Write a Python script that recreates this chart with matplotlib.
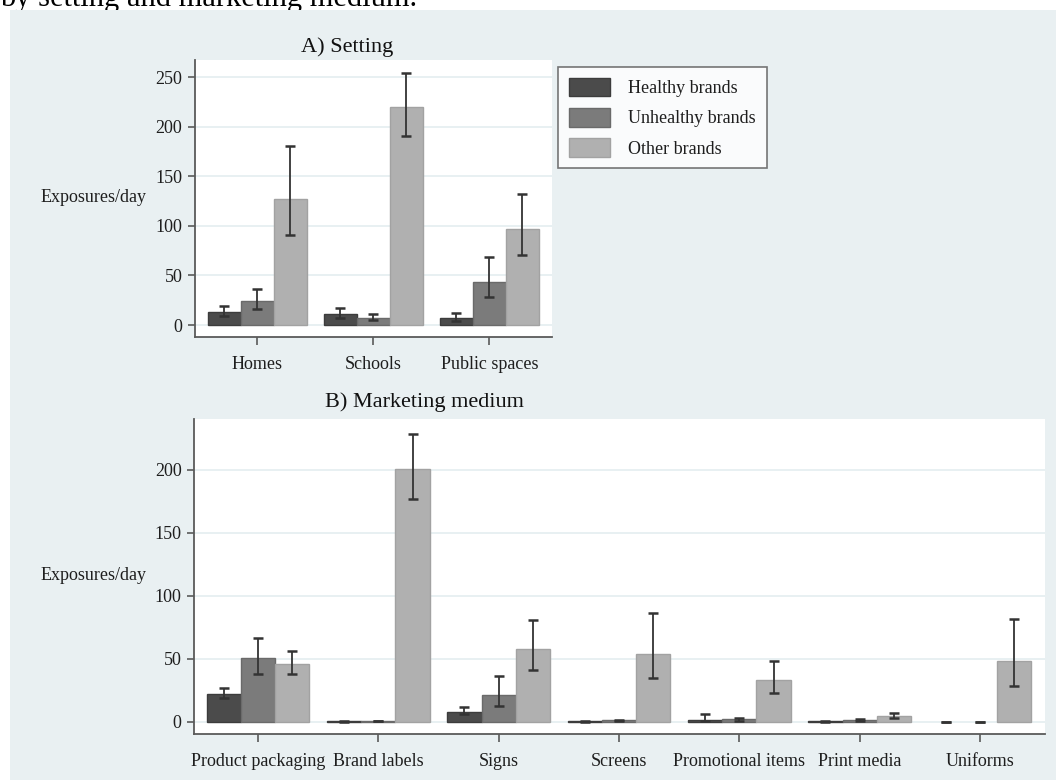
import numpy as np
import matplotlib
matplotlib.use("Agg")
import matplotlib.pyplot as plt
from matplotlib.patches import Rectangle, Patch

plt.rcParams['font.family'] = ['Liberation Serif', 'DejaVu Serif']

# ---- data: exposures per day (mean with 95% CI) ----
series_names = ["Healthy brands", "Unhealthy brands", "Other brands"]

settings = ["Homes", "Schools", "Public spaces"]
setting_healthy = [13.5, 10.8, 6.7]
setting_healthy_lo = [9.4, 7.4, 4.0]
setting_healthy_hi = [19.5, 17.5, 12.1]
setting_unhealthy = [24.5, 6.7, 43.7]
setting_unhealthy_lo = [16.1, 4.7, 28.3]
setting_unhealthy_hi = [36.3, 11.4, 69.0]
setting_other = [127.1, 220.0, 96.5]
setting_other_lo = [90.5, 190.4, 71.0]
setting_other_hi = [180.3, 254.0, 131.9]

media = ["Product packaging", "Brand labels", "Signs", "Screens",
         "Promotional items", "Print media", "Uniforms"]
media_healthy = [22.0, 0.3, 7.7, 0.3, 1.0, 0.3, 0.0]
media_healthy_lo = [18.8, 0.1, 6.1, 0.1, 0.2, 0.1, 0.0]
media_healthy_hi = [26.7, 0.5, 11.7, 0.5, 6.3, 0.5, 0.0]
media_unhealthy = [50.5, 0.4, 21.3, 1.0, 1.9, 1.0, 0.0]
media_unhealthy_lo = [38.1, 0.2, 12.8, 0.5, 0.8, 0.3, 0.0]
media_unhealthy_hi = [66.7, 0.7, 36.5, 1.6, 3.2, 2.4, 0.0]
media_other = [46.0, 200.5, 57.7, 54.0, 32.8, 4.2, 47.9]
media_other_lo = [38.1, 176.7, 41.3, 34.4, 22.8, 2.9, 28.6]
media_other_hi = [55.8, 228.3, 81.0, 86.3, 48.1, 6.9, 81.7]

top_yticks = [0, 50, 100, 150, 200, 250]
bottom_yticks = [0, 50, 100, 150, 200]

# ---- styling ----
W, H = 1056, 780
bg = "#e9f0f2"
grid_c = "#e6eff1"
spine_c = "#5a5a5a"
face = ["#4b4b4b", "#7b7b7b", "#b0b0b0"]
edge = ["#3c3c3c", "#6a6a6a", "#a2a2a2"]
err_c = "#333333"
text_c = "#1e1e1e"
fs = 13
bar_w = 0.285

fig = plt.figure(figsize=(W / 100, H / 100), dpi=100)
fig.patch.set_facecolor("white")

# caption line above the panel
fig.text(0 / W, 1 - 6 / H, "by setting and marketing medium.", fontsize=22,
         color="black", ha="left", va="baseline", zorder=-3)
fig.patches.append(Rectangle((10 / W, 0), 1 - 10 / W, 1 - 10 / H,
                             transform=fig.transFigure, facecolor=bg,
                             edgecolor="none", zorder=-2))


def px_axes(left, top, right, bottom):
    return fig.add_axes([left / W, 1 - bottom / H, (right - left) / W,
                         (bottom - top) / H])


def draw_panel(ax, cats, vals, los, his, ylim, yticks, xlim):
    x = np.arange(len(cats))
    for i in range(3):
        v = np.array(vals[i], dtype=float)
        lo = np.array(los[i], dtype=float)
        hi = np.array(his[i], dtype=float)
        xs = x + (i - 1) * bar_w
        lws = [0.0 if val == 0 else 1.0 for val in v]
        ax.bar(xs, v, width=bar_w, color=face[i], edgecolor=edge[i],
               linewidth=lws, zorder=2)
        ax.errorbar(xs, v, yerr=[v - lo, hi - v], fmt="none", ecolor=err_c,
                    elinewidth=1.3, capsize=3.8, capthick=1.8, zorder=3)
    ax.set_xlim(*xlim)
    ax.set_ylim(*ylim)
    ax.set_xticks(x)
    ax.set_xticklabels(cats, fontsize=fs, color=text_c)
    ax.set_yticks(yticks)
    ax.set_yticklabels([str(t) for t in yticks], fontsize=fs, color=text_c)
    ax.set_facecolor("white")
    for s in ("top", "right"):
        ax.spines[s].set_visible(False)
    for s in ("left", "bottom"):
        ax.spines[s].set_color(spine_c)
        ax.spines[s].set_linewidth(1.3)
    ax.tick_params(axis="both", direction="out", color=spine_c, width=1.2,
                   length=5, pad=4)
    ax.tick_params(axis="x", length=6, pad=8)
    ax.yaxis.grid(True, color=grid_c, linewidth=1.3, zorder=0)
    ax.set_axisbelow(True)


ax1 = px_axes(195, 60, 552, 337)
draw_panel(ax1, settings,
           [setting_healthy, setting_unhealthy, setting_other],
           [setting_healthy_lo, setting_unhealthy_lo, setting_other_lo],
           [setting_healthy_hi, setting_unhealthy_hi, setting_other_hi],
           (-12.1, 267.5), top_yticks, (-0.537, 2.54))

ax2 = px_axes(194, 419, 1045, 734)
draw_panel(ax2, media,
           [media_healthy, media_unhealthy, media_other],
           [media_healthy_lo, media_unhealthy_lo, media_other_lo],
           [media_healthy_hi, media_unhealthy_hi, media_other_hi],
           (-9.8, 240.2), bottom_yticks, (-0.532, 6.54))

# panel titles and axis labels
fig.text(347 / W, 1 - 47 / H, "A) Setting", fontsize=16, ha="center",
         va="center", color="#111111")
fig.text(424 / W, 1 - 402 / H, "B) Marketing medium", fontsize=16,
         ha="center", va="center", color="#111111")
fig.text(41 / W, 1 - 197 / H, "Exposures/day", fontsize=fs, ha="left",
         va="center", color=text_c)
fig.text(41 / W, 1 - 575 / H, "Exposures/day", fontsize=fs, ha="left",
         va="center", color=text_c)

handles = [Patch(facecolor=face[i], edgecolor=edge[i], linewidth=1.0)
           for i in range(3)]
leg = fig.legend(handles, series_names, loc="upper left",
                 bbox_to_anchor=(558 / W, 1 - 67 / H), fontsize=fs,
                 frameon=True, fancybox=False, handlelength=2.3,
                 handleheight=1.2, handletextpad=1.0, labelspacing=0.6,
                 borderpad=0.6, borderaxespad=0.0)
leg.get_frame().set_edgecolor("#555555")
leg.get_frame().set_linewidth(1.2)
leg.get_frame().set_facecolor("white")
for t in leg.get_texts():
    t.set_color(text_c)

fig.savefig("out.png", dpi=100, facecolor=fig.get_facecolor())
